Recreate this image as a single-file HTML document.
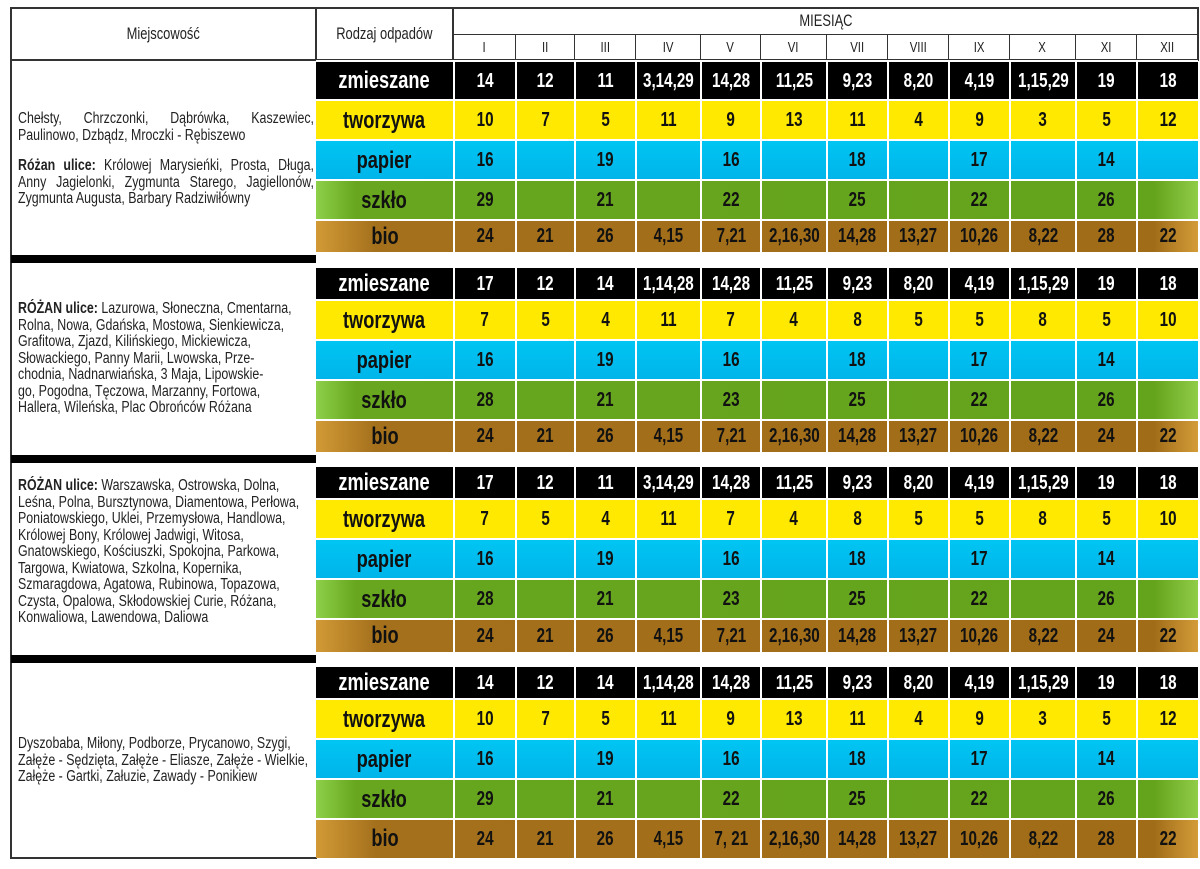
<!DOCTYPE html>
<html><head><meta charset="utf-8">
<style>
*{margin:0;padding:0;box-sizing:border-box}
body{width:1200px;height:869px;background:#fff;position:relative;overflow:hidden;font-family:"Liberation Sans",sans-serif}
.hl{position:absolute;background:#333}
.sq{display:inline-block;transform:scaleX(.76);transform-origin:center;white-space:nowrap}
.hdr{position:absolute;font-size:17px;color:#222;text-align:center}
.row{position:absolute;left:316px;width:882px;display:grid;grid-template-columns:137px 62px 59px 61px 65px 60px 66px 61px 61px 61px 66px 61px 62px}
.row div{border-left:2px solid #fff;border-top:2px solid #fff;display:flex;align-items:center;justify-content:center;font-weight:bold;font-size:20px}
.row div:first-child{font-size:24px;border-left:none}
.zm{background:#000;color:#fff}
.tw{background:#ffe900;color:#111}
.pa{background:linear-gradient(180deg,#00c6f3,#00b4ea);color:#111}
.sz{background:linear-gradient(90deg,#8ed04a 0,#67a61e 40px,#64a31c 95%,#90cc48 100%);color:#111}
.bi{background:linear-gradient(90deg,#d29a36 0,#a4701c 60px,#a06c18 95%,#d49c38 100%);color:#111}
.bar{position:absolute;left:11px;width:305px;height:8px;background:#000}
.lt{position:absolute;left:18px;font-size:15.5px;line-height:16.5px;color:#222;transform:scaleX(.8);transform-origin:left top;white-space:nowrap}
.cols{position:absolute;top:35px;left:453px;width:745px;height:25px;display:grid;grid-template-columns:62px 59px 61px 65px 60px 66px 61px 61px 61px 66px 61px 62px}
.cols div{border-left:1px solid #333;text-align:center;font-size:15px;line-height:25px;color:#222}
</style></head><body>
<div class="hl" style="left:10px;top:7px;width:1189px;height:2px"></div>
<div class="hl" style="left:10px;top:7px;width:2px;height:852px"></div>
<div class="hl" style="left:1197px;top:7px;width:2px;height:54px"></div>
<div class="hl" style="left:10px;top:857px;width:307px;height:2px"></div>
<div class="hl" style="left:315px;top:7px;width:2px;height:54px"></div>
<div class="hl" style="left:452px;top:7px;width:2px;height:54px"></div>
<div class="hl" style="left:453px;top:34px;width:745px;height:1px"></div>
<div class="hl" style="left:10px;top:59px;width:1189px;height:2px"></div>
<div class="hdr" style="left:12px;top:24px;width:303px"><span class="sq">Miejscowość</span></div>
<div class="hdr" style="left:317px;top:24px;width:135px"><span class="sq">Rodzaj odpadów</span></div>
<div class="hdr" style="left:454px;top:11px;width:744px"><span class="sq">MIESIĄC</span></div>
<div class="cols"><div><span class="sq">I</span></div><div><span class="sq">II</span></div><div><span class="sq">III</span></div><div><span class="sq">IV</span></div><div><span class="sq">V</span></div><div><span class="sq">VI</span></div><div><span class="sq">VII</span></div><div><span class="sq">VIII</span></div><div><span class="sq">IX</span></div><div><span class="sq">X</span></div><div><span class="sq">XI</span></div><div><span class="sq">XII</span></div></div>

<div class="lt" style="top:111px;width:370px"><div style="text-align:justify;text-align-last:justify">Chełsty, Chrzczonki, Dąbrówka, Kaszewiec,</div>Paulinowo, Dzbądz, Mroczki - Rębiszewo<br><div style="height:14px"></div><div style="text-align:justify;text-align-last:justify"><b>Różan ulice:</b> Królowej Marysieńki, Prosta, Długa,</div><div style="text-align:justify;text-align-last:justify">Anny Jagielonki, Zygmunta Starego, Jagiellonów,</div>Zygmunta Augusta, Barbary Radziwiłówny</div>
<div class="bar" style="top:255px"></div>
<div class="lt" style="top:301px"><b>RÓŻAN ulice:</b> Lazurowa, Słoneczna, Cmentarna,<br>Rolna, Nowa, Gdańska, Mostowa, Sienkiewicza,<br>Grafitowa, Zjazd, Kilińskiego, Mickiewicza,<br>Słowackiego, Panny Marii, Lwowska, Prze-<br>chodnia, Nadnarwiańska, 3 Maja, Lipowskie-<br>go, Pogodna, Tęczowa, Marzanny, Fortowa,<br>Hallera, Wileńska, Plac Obrońców Różana</div>
<div class="bar" style="top:455px"></div>
<div class="lt" style="top:478px"><b>RÓŻAN ulice:</b> Warszawska, Ostrowska, Dolna,<br>Leśna, Polna, Bursztynowa, Diamentowa, Perłowa,<br>Poniatowskiego, Uklei, Przemysłowa, Handlowa,<br>Królowej Bony, Królowej Jadwigi, Witosa,<br>Gnatowskiego, Kościuszki, Spokojna, Parkowa,<br>Targowa, Kwiatowa, Szkolna, Kopernika,<br>Szmaragdowa, Agatowa, Rubinowa, Topazowa,<br>Czysta, Opalowa, Skłodowskiej Curie, Różana,<br>Konwaliowa, Lawendowa, Daliowa</div>
<div class="bar" style="top:655px"></div>
<div class="lt" style="top:736px">Dyszobaba, Miłony, Podborze, Prycanowo, Szygi,<br>Załęże - Sędzięta, Załęże - Eliasze, Załęże - Wielkie,<br>Załęże - Gartki, Załuzie, Zawady - Ponikiew</div>

<div class="row zm" style="top:60px;height:40px"><div><span class="sq">zmieszane</span></div><div><span class="sq">14</span></div><div><span class="sq">12</span></div><div><span class="sq">11</span></div><div><span class="sq">3,14,29</span></div><div><span class="sq">14,28</span></div><div><span class="sq">11,25</span></div><div><span class="sq">9,23</span></div><div><span class="sq">8,20</span></div><div><span class="sq">4,19</span></div><div><span class="sq">1,15,29</span></div><div><span class="sq">19</span></div><div><span class="sq">18</span></div></div>
<div class="row tw" style="top:99px;height:41px"><div><span class="sq">tworzywa</span></div><div><span class="sq">10</span></div><div><span class="sq">7</span></div><div><span class="sq">5</span></div><div><span class="sq">11</span></div><div><span class="sq">9</span></div><div><span class="sq">13</span></div><div><span class="sq">11</span></div><div><span class="sq">4</span></div><div><span class="sq">9</span></div><div><span class="sq">3</span></div><div><span class="sq">5</span></div><div><span class="sq">12</span></div></div>
<div class="row pa" style="top:139px;height:41px"><div><span class="sq">papier</span></div><div><span class="sq">16</span></div><div></div><div><span class="sq">19</span></div><div></div><div><span class="sq">16</span></div><div></div><div><span class="sq">18</span></div><div></div><div><span class="sq">17</span></div><div></div><div><span class="sq">14</span></div><div></div></div>
<div class="row sz" style="top:179px;height:41px"><div><span class="sq">szkło</span></div><div><span class="sq">29</span></div><div></div><div><span class="sq">21</span></div><div></div><div><span class="sq">22</span></div><div></div><div><span class="sq">25</span></div><div></div><div><span class="sq">22</span></div><div></div><div><span class="sq">26</span></div><div></div></div>
<div class="row bi" style="top:219px;height:33px"><div><span class="sq">bio</span></div><div><span class="sq">24</span></div><div><span class="sq">21</span></div><div><span class="sq">26</span></div><div><span class="sq">4,15</span></div><div><span class="sq">7,21</span></div><div><span class="sq">2,16,30</span></div><div><span class="sq">14,28</span></div><div><span class="sq">13,27</span></div><div><span class="sq">10,26</span></div><div><span class="sq">8,22</span></div><div><span class="sq">28</span></div><div><span class="sq">22</span></div></div>

<div class="row zm" style="top:266px;height:34px"><div><span class="sq">zmieszane</span></div><div><span class="sq">17</span></div><div><span class="sq">12</span></div><div><span class="sq">14</span></div><div><span class="sq">1,14,28</span></div><div><span class="sq">14,28</span></div><div><span class="sq">11,25</span></div><div><span class="sq">9,23</span></div><div><span class="sq">8,20</span></div><div><span class="sq">4,19</span></div><div><span class="sq">1,15,29</span></div><div><span class="sq">19</span></div><div><span class="sq">18</span></div></div>
<div class="row tw" style="top:299px;height:41px"><div><span class="sq">tworzywa</span></div><div><span class="sq">7</span></div><div><span class="sq">5</span></div><div><span class="sq">4</span></div><div><span class="sq">11</span></div><div><span class="sq">7</span></div><div><span class="sq">4</span></div><div><span class="sq">8</span></div><div><span class="sq">5</span></div><div><span class="sq">5</span></div><div><span class="sq">8</span></div><div><span class="sq">5</span></div><div><span class="sq">10</span></div></div>
<div class="row pa" style="top:339px;height:41px"><div><span class="sq">papier</span></div><div><span class="sq">16</span></div><div></div><div><span class="sq">19</span></div><div></div><div><span class="sq">16</span></div><div></div><div><span class="sq">18</span></div><div></div><div><span class="sq">17</span></div><div></div><div><span class="sq">14</span></div><div></div></div>
<div class="row sz" style="top:379px;height:41px"><div><span class="sq">szkło</span></div><div><span class="sq">28</span></div><div></div><div><span class="sq">21</span></div><div></div><div><span class="sq">23</span></div><div></div><div><span class="sq">25</span></div><div></div><div><span class="sq">22</span></div><div></div><div><span class="sq">26</span></div><div></div></div>
<div class="row bi" style="top:419px;height:33px"><div><span class="sq">bio</span></div><div><span class="sq">24</span></div><div><span class="sq">21</span></div><div><span class="sq">26</span></div><div><span class="sq">4,15</span></div><div><span class="sq">7,21</span></div><div><span class="sq">2,16,30</span></div><div><span class="sq">14,28</span></div><div><span class="sq">13,27</span></div><div><span class="sq">10,26</span></div><div><span class="sq">8,22</span></div><div><span class="sq">24</span></div><div><span class="sq">22</span></div></div>

<div class="row zm" style="top:465px;height:34px"><div><span class="sq">zmieszane</span></div><div><span class="sq">17</span></div><div><span class="sq">12</span></div><div><span class="sq">11</span></div><div><span class="sq">3,14,29</span></div><div><span class="sq">14,28</span></div><div><span class="sq">11,25</span></div><div><span class="sq">9,23</span></div><div><span class="sq">8,20</span></div><div><span class="sq">4,19</span></div><div><span class="sq">1,15,29</span></div><div><span class="sq">19</span></div><div><span class="sq">18</span></div></div>
<div class="row tw" style="top:498px;height:41px"><div><span class="sq">tworzywa</span></div><div><span class="sq">7</span></div><div><span class="sq">5</span></div><div><span class="sq">4</span></div><div><span class="sq">11</span></div><div><span class="sq">7</span></div><div><span class="sq">4</span></div><div><span class="sq">8</span></div><div><span class="sq">5</span></div><div><span class="sq">5</span></div><div><span class="sq">8</span></div><div><span class="sq">5</span></div><div><span class="sq">10</span></div></div>
<div class="row pa" style="top:538px;height:41px"><div><span class="sq">papier</span></div><div><span class="sq">16</span></div><div></div><div><span class="sq">19</span></div><div></div><div><span class="sq">16</span></div><div></div><div><span class="sq">18</span></div><div></div><div><span class="sq">17</span></div><div></div><div><span class="sq">14</span></div><div></div></div>
<div class="row sz" style="top:578px;height:41px"><div><span class="sq">szkło</span></div><div><span class="sq">28</span></div><div></div><div><span class="sq">21</span></div><div></div><div><span class="sq">23</span></div><div></div><div><span class="sq">25</span></div><div></div><div><span class="sq">22</span></div><div></div><div><span class="sq">26</span></div><div></div></div>
<div class="row bi" style="top:618px;height:34px"><div><span class="sq">bio</span></div><div><span class="sq">24</span></div><div><span class="sq">21</span></div><div><span class="sq">26</span></div><div><span class="sq">4,15</span></div><div><span class="sq">7,21</span></div><div><span class="sq">2,16,30</span></div><div><span class="sq">14,28</span></div><div><span class="sq">13,27</span></div><div><span class="sq">10,26</span></div><div><span class="sq">8,22</span></div><div><span class="sq">24</span></div><div><span class="sq">22</span></div></div>

<div class="row zm" style="top:665px;height:34px"><div><span class="sq">zmieszane</span></div><div><span class="sq">14</span></div><div><span class="sq">12</span></div><div><span class="sq">14</span></div><div><span class="sq">1,14,28</span></div><div><span class="sq">14,28</span></div><div><span class="sq">11,25</span></div><div><span class="sq">9,23</span></div><div><span class="sq">8,20</span></div><div><span class="sq">4,19</span></div><div><span class="sq">1,15,29</span></div><div><span class="sq">19</span></div><div><span class="sq">18</span></div></div>
<div class="row tw" style="top:698px;height:41px"><div><span class="sq">tworzywa</span></div><div><span class="sq">10</span></div><div><span class="sq">7</span></div><div><span class="sq">5</span></div><div><span class="sq">11</span></div><div><span class="sq">9</span></div><div><span class="sq">13</span></div><div><span class="sq">11</span></div><div><span class="sq">4</span></div><div><span class="sq">9</span></div><div><span class="sq">3</span></div><div><span class="sq">5</span></div><div><span class="sq">12</span></div></div>
<div class="row pa" style="top:738px;height:41px"><div><span class="sq">papier</span></div><div><span class="sq">16</span></div><div></div><div><span class="sq">19</span></div><div></div><div><span class="sq">16</span></div><div></div><div><span class="sq">18</span></div><div></div><div><span class="sq">17</span></div><div></div><div><span class="sq">14</span></div><div></div></div>
<div class="row sz" style="top:778px;height:41px"><div><span class="sq">szkło</span></div><div><span class="sq">29</span></div><div></div><div><span class="sq">21</span></div><div></div><div><span class="sq">22</span></div><div></div><div><span class="sq">25</span></div><div></div><div><span class="sq">22</span></div><div></div><div><span class="sq">26</span></div><div></div></div>
<div class="row bi" style="top:818px;height:40px"><div><span class="sq">bio</span></div><div><span class="sq">24</span></div><div><span class="sq">21</span></div><div><span class="sq">26</span></div><div><span class="sq">4,15</span></div><div><span class="sq">7, 21</span></div><div><span class="sq">2,16,30</span></div><div><span class="sq">14,28</span></div><div><span class="sq">13,27</span></div><div><span class="sq">10,26</span></div><div><span class="sq">8,22</span></div><div><span class="sq">28</span></div><div><span class="sq">22</span></div></div>
</body></html>
